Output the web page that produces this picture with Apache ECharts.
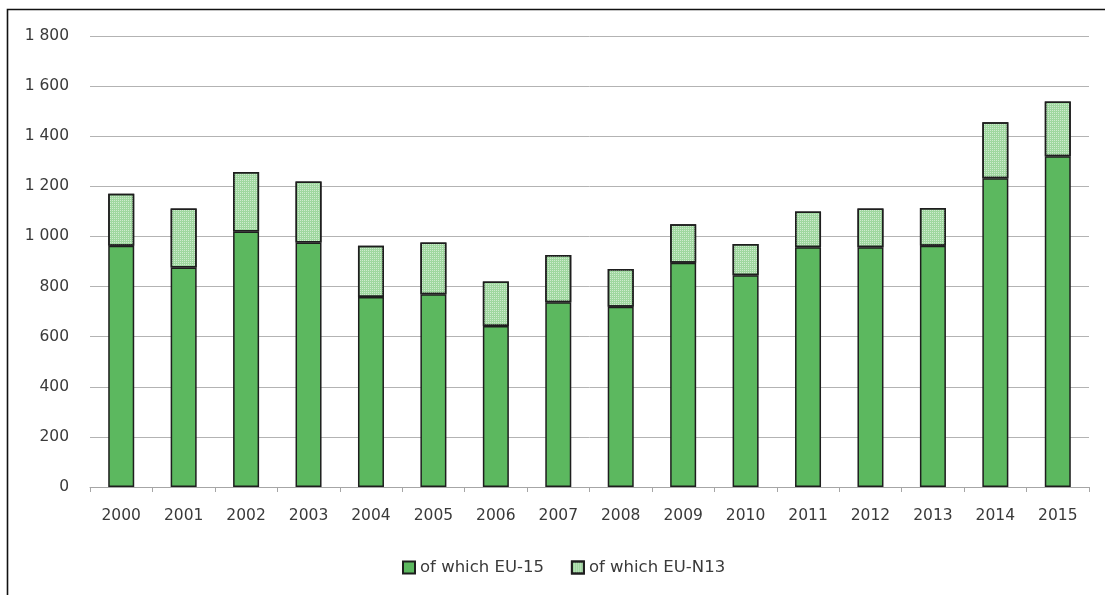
<!DOCTYPE html>
<html>
<head>
<meta charset="utf-8">
<script src="https://cdn.jsdelivr.net/npm/echarts@6/dist/echarts.min.js"></script>
<style>
  html, body { margin: 0; padding: 0; background: #ffffff; }
  #chart { width: 1105px; height: 595px; }
</style>
</head>
<body>
<div id="chart"></div>
<script>
// Years on the category axis
const years = ['2000', '2001', '2002', '2003', '2004', '2005', '2006', '2007',
               '2008', '2009', '2010', '2011', '2012', '2013', '2014', '2015'];
// EU-15 part of each bar
const eu15 = [963, 876, 1020, 976, 758, 769, 643, 737, 719, 895, 845, 957, 957, 963, 1232, 1320];
// EU-N13 part stacked on top
const euN13 = [207, 236, 237, 243, 205, 207, 177, 189, 151, 154, 125, 143, 155, 151, 224, 219];
// Value axis ticks
const yTicks = [0, 200, 400, 600, 800, 1000, 1200, 1400, 1600, 1800];
const seriesNames = ['of which EU-15', 'of which EU-N13'];

const fmt = v => String(v).replace(/\B(?=(\d{3})+(?!\d))/g, ' ');
const font = '"DejaVu Sans", sans-serif';
const textColor = '#3a3a3a';

// soft white dot texture over the light-green EU-N13 fill
const dots = {
  symbol: 'rect',
  symbolSize: 1,
  color: 'rgba(255,255,255,0.5)',
  dashArrayX: [1, 1],
  dashArrayY: [1, 1],
  rotation: 0
};

const chart = echarts.init(document.getElementById('chart'), null, { renderer: 'canvas' });
chart.setOption({
  animation: false,
  backgroundColor: '#ffffff',
  graphic: [{
    type: 'rect',
    left: 5, top: 7,
    shape: { width: 1200, height: 700 },
    style: { fill: 'none', stroke: '#111111', lineWidth: 1.6 },
    silent: true
  }],
  grid: { left: 90, right: 16, top: 36, bottom: 108, containLabel: false },
  legend: {
    left: 397, top: 554,
    itemWidth: 12, itemHeight: 12, itemGap: 27,
    icon: 'rect',
    textStyle: { fontFamily: font, fontSize: 16.5, color: textColor },
    data: seriesNames
  },
  xAxis: {
    type: 'category',
    data: years,
    axisLine: { lineStyle: { color: '#a6a6a6', width: 1 } },
    axisTick: { show: true, length: 5, lineStyle: { color: '#a6a6a6' } },
    axisLabel: { margin: 21, fontFamily: font, fontSize: 15.5, color: textColor }
  },
  yAxis: {
    type: 'value',
    min: yTicks[0], max: yTicks[yTicks.length - 1], interval: yTicks[1] - yTicks[0],
    axisLine: { show: false },
    axisTick: { show: false },
    splitLine: { lineStyle: { color: '#b3b3b3', width: 1 } },
    axisLabel: { margin: 21, fontFamily: font, fontSize: 15.5, color: textColor, formatter: fmt }
  },
  series: [
    {
      name: seriesNames[0], type: 'bar', stack: 'total', data: eu15,
      barWidth: 26,
      itemStyle: { color: '#5cb85f', borderColor: '#1e1e1e', borderWidth: 1.5 }
    },
    {
      name: seriesNames[1], type: 'bar', stack: 'total', data: euN13,
      barWidth: 26,
      itemStyle: { color: '#9fd79f', borderColor: '#1e1e1e', borderWidth: 1.5, decal: dots }
    }
  ]
});
</script>
</body>
</html>
